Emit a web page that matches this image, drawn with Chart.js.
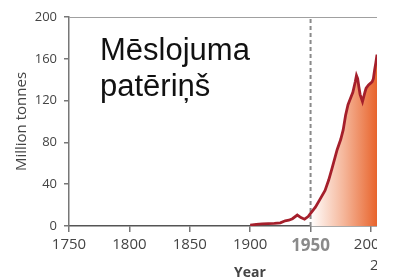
<!DOCTYPE html>
<html>
<head>
<meta charset="utf-8">
<script src="https://cdn.jsdelivr.net/npm/chart.js@4.4.1/dist/chart.umd.min.js"></script>
<style>
  html, body { margin: 0; padding: 0; background: #fff; width: 397px; height: 278px; overflow: hidden; }
  #wrap { position: relative; width: 377px; height: 278px; }
  #title {
    position: absolute; left: 100px; top: 32px;
    font-family: "Liberation Sans", Arial, sans-serif; font-size: 31px; line-height: 36px; color: #111;
  }
</style>
</head>
<body>
<div id="wrap">
  <canvas id="c" width="377" height="278"></canvas>
  <div id="title">Mēslojuma<br>patēriņš</div>
</div>
<script>
// gada dati (nolasīti no attēla)
const years = [1900, 1905, 1910, 1915, 1920, 1925, 1929, 1932, 1935, 1939, 1942, 1945, 1948, 1950, 1954, 1958, 1962, 1965, 1968, 1972, 1975, 1977, 1979, 1981, 1983, 1985, 1987, 1988, 1989, 1990, 1991, 1993, 1995, 1996, 1998, 2000, 2001, 2002, 2003, 2004, 2005];
const tonnes = [0.8, 1.5, 2, 2.2, 2.5, 3, 5, 5.5, 7, 10.5, 8, 6.5, 9, 12, 18, 26, 34, 44, 56, 73, 83, 92, 106, 116, 122, 128, 138, 144, 141, 133, 126, 119, 128, 132, 135, 137, 138, 141, 149, 156, 164];
const yTicks = [0, 40, 80, 120, 160, 200];
const xTicks = [1750, 1800, 1850, 1900, 1950, 2000];
const markYear = 1950;

const linePts = years.map((y, i) => ({ x: y, y: tonnes[i] }));
const fillPts = linePts.filter(p => p.x >= markYear);

const extras = {
  id: 'extras',
  afterDraw(chart) {
    const { ctx, chartArea } = chart;
    ctx.save();
    // augšējā līnija
    ctx.strokeStyle = '#a0a0a0';
    ctx.lineWidth = 1;
    ctx.beginPath();
    ctx.moveTo(chartArea.left, chartArea.top + 0.5);
    ctx.lineTo(chartArea.right, chartArea.top + 0.5);
    ctx.stroke();
    // ass nosaukums
    ctx.fillStyle = '#444';
    ctx.font = 'bold 14px "Open Sans"';
    ctx.textAlign = 'center';
    ctx.fillText('Year', 250, 277);
    ctx.font = '15px "Open Sans"';
    ctx.textAlign = 'left';
    ctx.fillText('2008', 370, 270);
    ctx.restore();
  }
};

new Chart(document.getElementById('c'), {
  type: 'line',
  data: {
    datasets: [
      {
        data: linePts, borderColor: '#a51f2b', borderWidth: 2.8, pointRadius: 0, tension: 0, order: 0, fill: false
      },
      {
        data: [{ x: markYear, y: 0 }, { x: markYear, y: 200 }],
        borderColor: '#8a8a8a', borderWidth: 2, borderDash: [4, 3], pointRadius: 0, order: 1, fill: false
      },
      {
        data: fillPts, borderWidth: 0, pointRadius: 0, tension: 0, order: 2, fill: 'origin',
        backgroundColor: (c) => {
          const ch = c.chart;
          if (!ch.chartArea) return 'rgba(0,0,0,0)';
          const x0 = ch.scales.x.getPixelForValue(markYear);
          const g = ch.ctx.createLinearGradient(x0, 0, ch.chartArea.right, 0);
          g.addColorStop(0, '#ffffff');
          g.addColorStop(0.5, '#f5b69a');
          g.addColorStop(1, '#e8642c');
          return g;
        }
      }
    ]
  },
  options: {
    responsive: false,
    animation: false,
    layout: { padding: { top: 17, left: 0, right: 0, bottom: 0 } },
    plugins: { legend: { display: false }, tooltip: { enabled: false } },
    scales: {
      x: {
        type: 'linear', min: 1750, max: 2005,
        afterBuildTicks: (s) => { s.ticks = xTicks.map(v => ({ value: v })); },
        afterFit: (s) => { s.height = 52; s.paddingLeft = 0; s.paddingRight = 0; },
        ticks: {
          padding: 4,
          maxRotation: 0,
          autoSkip: false,
          callback: (v) => String(v),
          color: (c) => c.tick && c.tick.value === markYear ? '#8a8a8a' : '#444',
          font: (c) => c.tick && c.tick.value === markYear
            ? { family: 'Open Sans', size: 17, weight: 'bold' }
            : { family: 'Open Sans', size: 15 }
        },
        grid: { drawOnChartArea: false, tickLength: 6, color: '#777', lineWidth: 1.5 },
        border: { color: '#555', width: 1.5 }
      },
      y: {
        min: 0, max: 200,
        afterBuildTicks: (s) => { s.ticks = yTicks.map(v => ({ value: v })); },
        afterFit: (s) => { s.width = 69; s.paddingTop = 0; s.paddingBottom = 0; },
        ticks: { padding: 7, color: '#444', font: { family: 'Open Sans', size: 13 } },
        grid: { drawOnChartArea: false, tickLength: 5, color: '#777', lineWidth: 1.5 },
        border: { color: '#777', width: 1.5 },
        title: {
          display: true, text: 'Million tonnes', color: '#444',
          font: { family: 'Open Sans', size: 15 }, padding: { top: 13, bottom: 0 }
        }
      }
    }
  },
  plugins: [extras]
});
</script>
</body>
</html>
